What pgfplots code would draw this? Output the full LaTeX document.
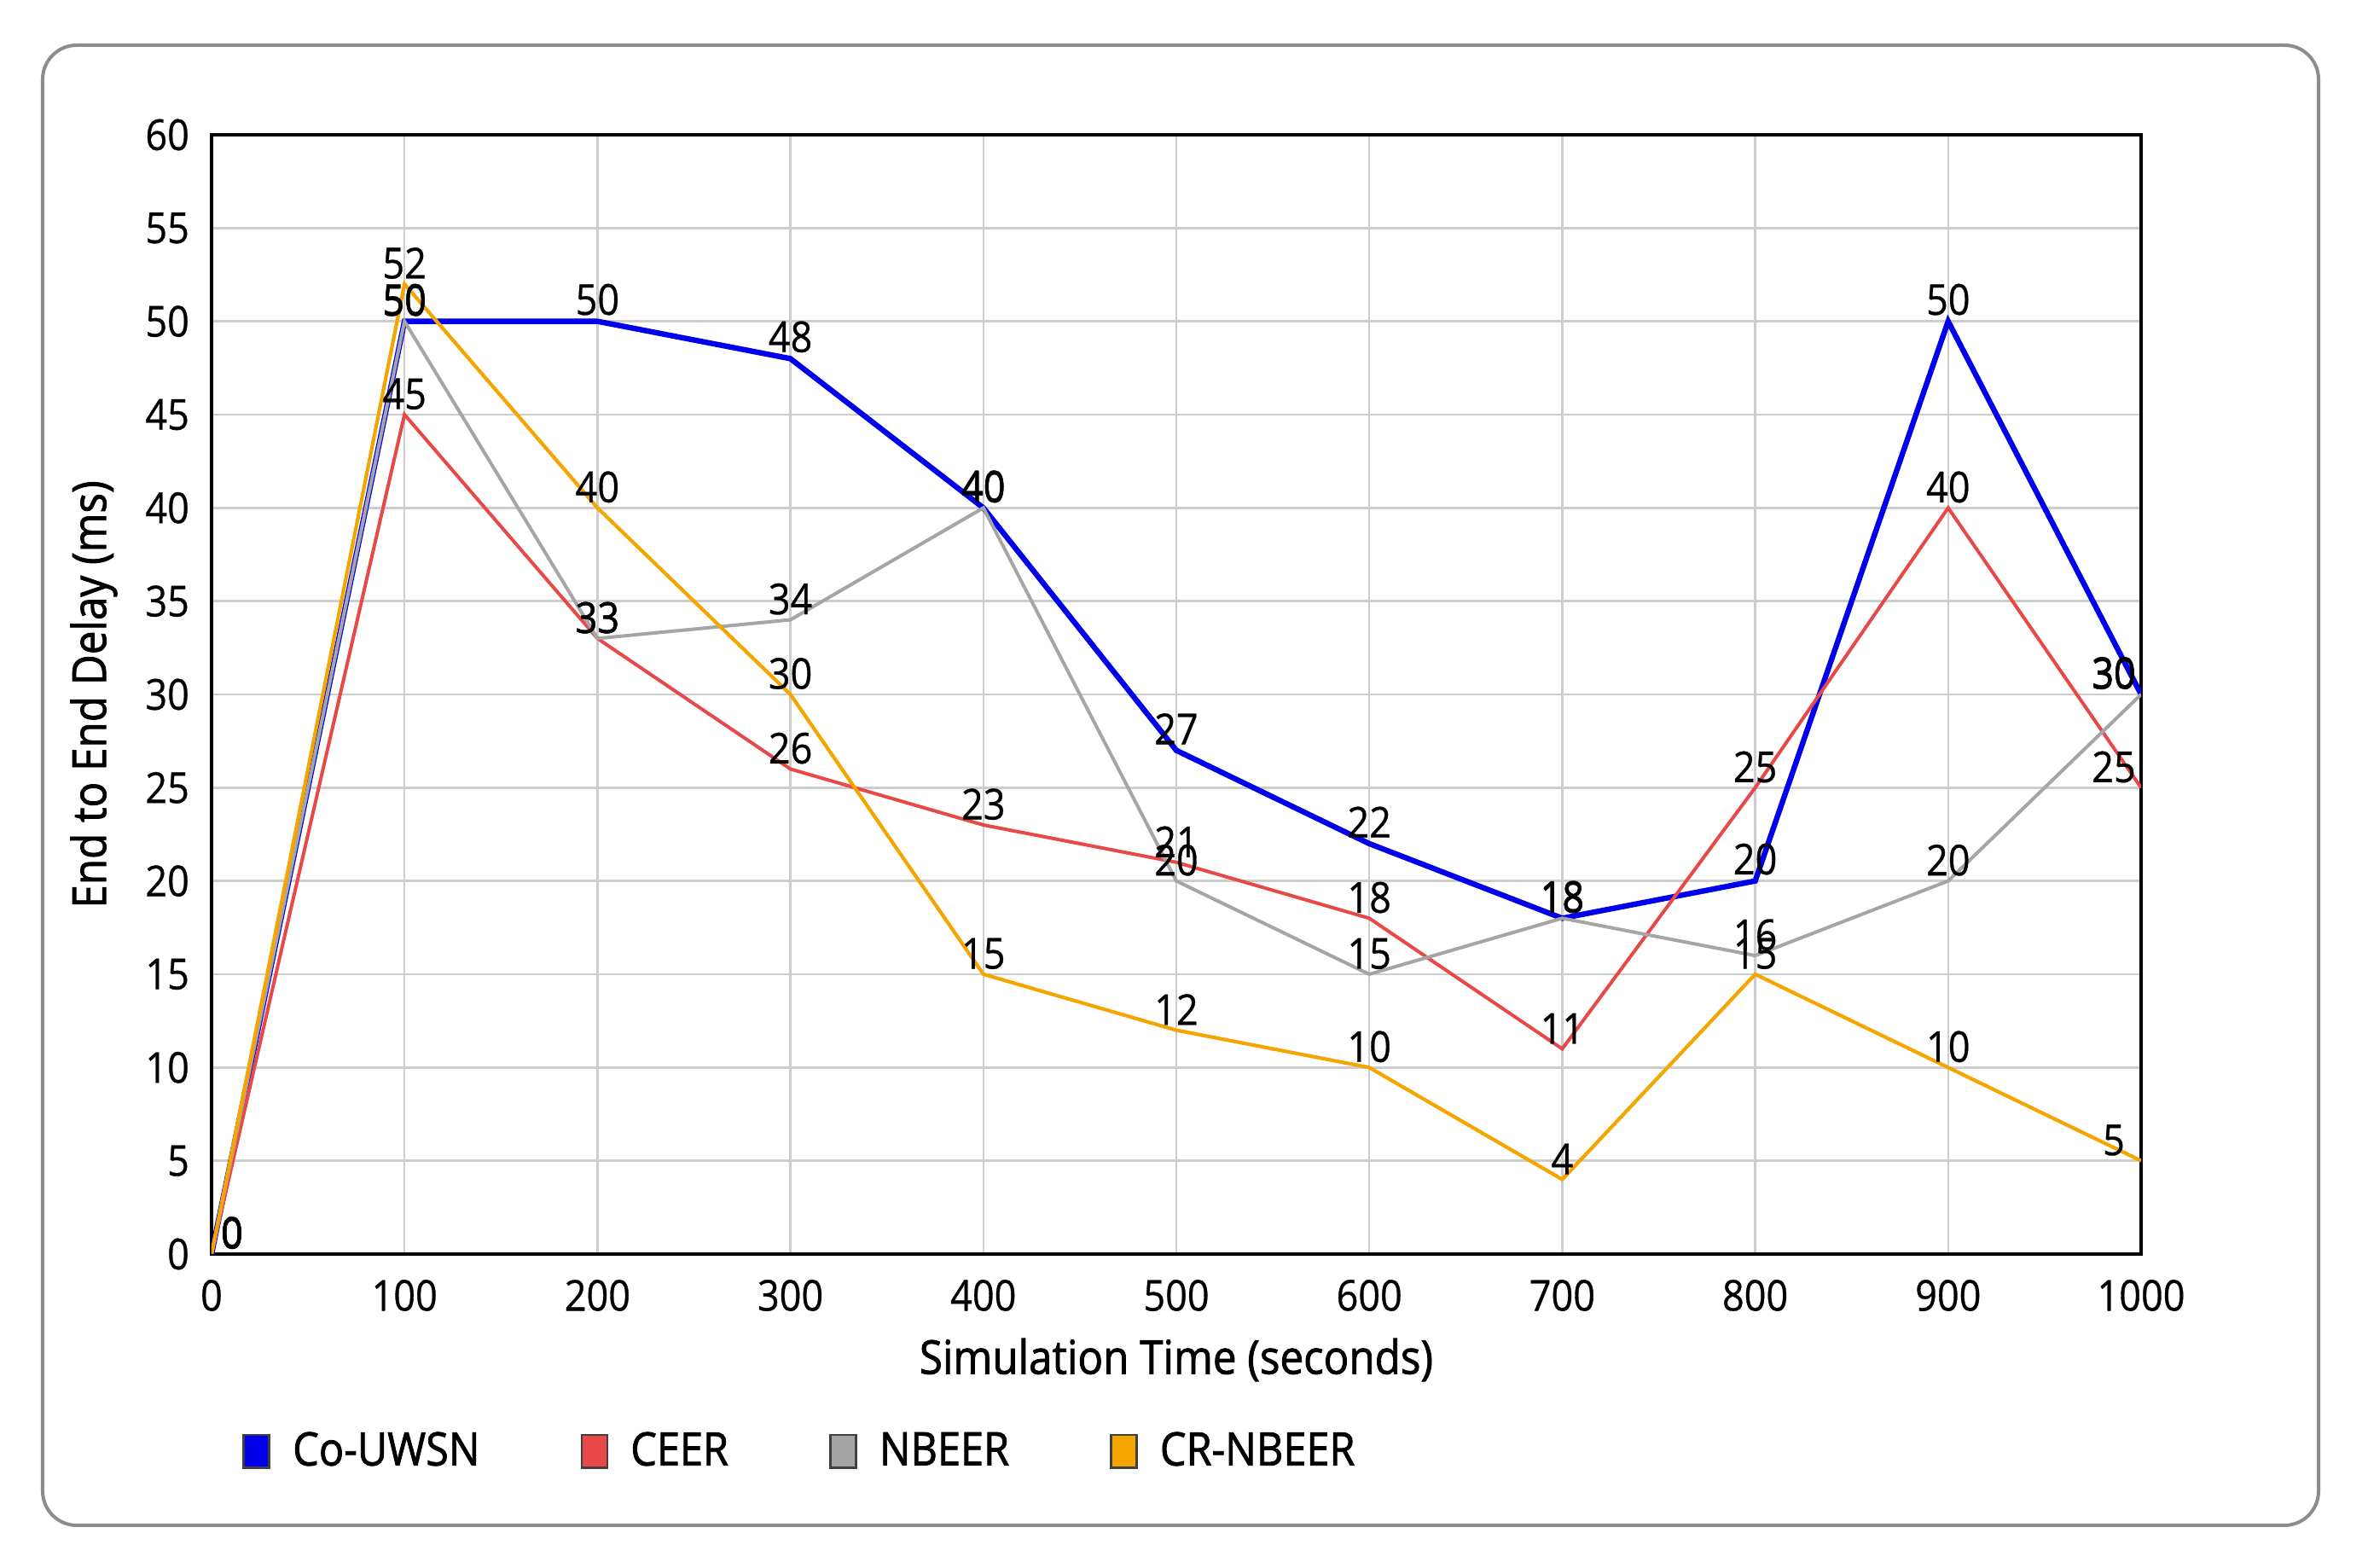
\documentclass[border=0pt]{standalone}
\usepackage{fontspec}
\setmainfont{Open Sans}[FakeStretch=0.9]
\newfontfamily\semib{Open Sans}[FakeStretch=0.9, UprightFeatures={FakeBold=1.5}]
\newfontfamily\medf{Open Sans}[FakeStretch=0.9, UprightFeatures={FakeBold=0.6}]
\usepackage{pgfplots}
\pgfplotsset{compat=1.18}
\definecolor{cblue}{RGB}{0,0,235}
\definecolor{cred}{RGB}{232,72,72}
\definecolor{cgray}{RGB}{165,165,165}
\definecolor{corange}{RGB}{245,165,0}
\definecolor{cgrid}{RGB}{205,205,205}
\begin{document}
\begin{tikzpicture}
\useasboundingbox (-62pt,-92pt) rectangle (632pt,367.5pt);
\draw[rounded corners=10pt, draw=black!45, line width=1pt] (-49.5pt,-79.5pt) rectangle (617.5pt,354.25pt);
\begin{axis}[
  at={(0,0)}, anchor=south west, scale only axis,
  width=565.5pt, height=328pt,
  xmin=0, xmax=1000, ymin=0, ymax=60,
  xtick={0,100,...,1000}, ytick={0,5,...,60},
  grid=major, major grid style={draw=cgrid, line width=0.6pt},
  axis line style={black, line width=0.9pt},
  tick style={draw=none},
  /pgf/number format/assume math mode=true,
  /pgf/number format/1000 sep={},
  tick label style={font=\medf\fontsize{12.5}{14}\selectfont},
  xticklabel style={yshift=-4pt},
  yticklabel style={xshift=-3pt},
  xlabel={Simulation Time (seconds)},
  ylabel={End to End Delay (ms)},
  label style={font=\semib\fontsize{13.7}{15}\selectfont},
  xlabel style={at={([yshift=-31pt]axis description cs:0.5,0)}, anchor=center},
  ylabel style={at={([xshift=-34.5pt]axis description cs:0,0.5)}, anchor=center},
  nodes near coords,
  visualization depends on={x \as \rawx},
  every node near coord/.append style={font=\medf\fontsize{12.5}{14}\selectfont, black, anchor=south, inner sep=1pt,
     xshift={((\rawx<1)*6-(\rawx>999)*8)*1pt}},
  legend image code/.code={\draw[#1, draw=black!75, line width=0.7pt, fill] (0pt,-4.8pt) rectangle (7.5pt,4.8pt);},
  legend style={at={(axis description cs:0,0)}, anchor=west, xshift=8.9pt, yshift=-57.8pt,
     draw=none, fill=none, inner sep=0pt, font=\semib\fontsize{13.5}{15}\selectfont,
     /tikz/every odd column/.append style={column sep=4.5pt},
     /tikz/every even column/.append style={column sep=27.5pt}},
  legend columns=4,
]
\addplot[cblue, line width=1.6pt] coordinates {(0,0)(100,50)(200,50)(300,48)(400,40)(500,27)(600,22)(700,18)(800,20)(900,50)(1000,30)};
\addlegendentry{Co-UWSN}
\addplot[cred, line width=1pt] coordinates {(0,0)(100,45)(200,33)(300,26)(400,23)(500,21)(600,18)(700,11)(800,25)(900,40)(1000,25)};
\addlegendentry{CEER}
\addplot[cgray, line width=1pt] coordinates {(0,0)(100,50)(200,33)(300,34)(400,40)(500,20)(600,15)(700,18)(800,16)(900,20)(1000,30)};
\addlegendentry{NBEER}
\addplot[corange, line width=1.05pt] coordinates {(0,0)(100,52)(200,40)(300,30)(400,15)(500,12)(600,10)(700,4)(800,15)(900,10)(1000,5)};
\addlegendentry{CR-NBEER}
\end{axis}
\end{tikzpicture}
\end{document}
